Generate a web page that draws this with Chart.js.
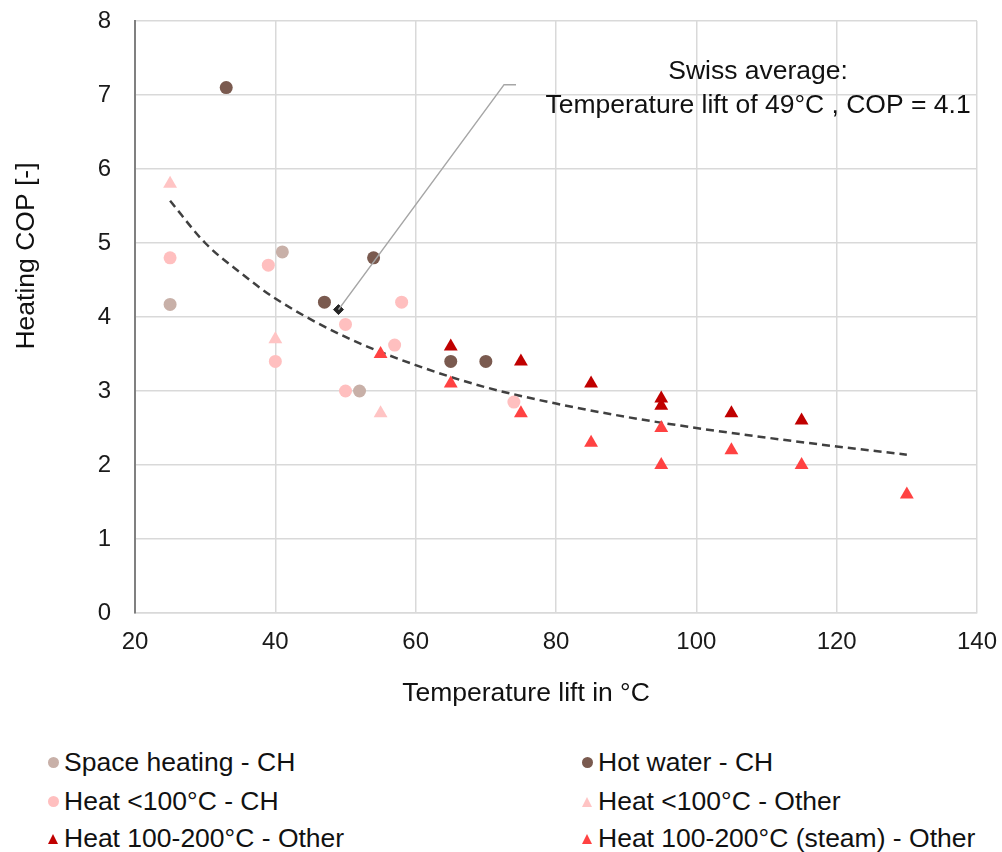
<!DOCTYPE html>
<html>
<head>
<meta charset="utf-8">
<script src="https://cdn.jsdelivr.net/npm/chart.js@4/dist/chart.umd.min.js"></script>
<style>
  body { margin: 0; background: #fff; font-family: "Liberation Sans", Arial, sans-serif; }
  #wrap { position: relative; width: 1002px; height: 720px; }
  #legend { position: absolute; left: 0; top: 740px; width: 1002px; }
  .item { position: absolute; font-size: 26.5px; color: #111; white-space: nowrap; line-height: 30px; }
  .dot { position: absolute; width: 11px; height: 11px; border-radius: 50%; left: -16px; top: 10px; }
  .tri { position: absolute; width: 0; height: 0; left: -16px; top: 11px;
         border-left: 5px solid transparent; border-right: 5px solid transparent; border-bottom-width: 10px; border-bottom-style: solid; }
</style>
</head>
<body>
<div id="wrap"><canvas id="chart" width="1002" height="720"></canvas></div>
<div id="legend"></div>
<script>
// Data
const spaceHeatingCH_x = [25, 41, 52];
const spaceHeatingCH_y = [4.17, 4.88, 3.0];

const hotWaterCH_x = [33, 47, 54, 65, 70];
const hotWaterCH_y = [7.1, 4.2, 4.8, 3.4, 3.4];

const heatLowCH_x = [25, 39, 40, 50, 50, 57, 58, 74];
const heatLowCH_y = [4.8, 4.7, 3.4, 3.9, 3.0, 3.62, 4.2, 2.85];

const heatLowOther_x = [25, 40, 55];
const heatLowOther_y = [5.8, 3.7, 2.7];

const heatHighOther_x = [65, 75, 85, 95, 95, 105, 115];
const heatHighOther_y = [3.6, 3.4, 3.1, 2.9, 2.8, 2.7, 2.6];

const heatSteamOther_x = [55, 65, 75, 85, 95, 95, 105, 115, 130];
const heatSteamOther_y = [3.5, 3.1, 2.7, 2.3, 2.5, 2.0, 2.2, 2.0, 1.6];

const swissAvg_x = [49];
const swissAvg_y = [4.1];

const trend_x = [25, 30, 35, 40, 50, 60, 70, 80, 90, 100, 110, 120, 130];
const trend_y = [5.57, 5.0, 4.6, 4.25, 3.73, 3.35, 3.05, 2.83, 2.65, 2.5, 2.37, 2.25, 2.14];

const xTicks = [20, 40, 60, 80, 100, 120, 140];
const yTicks = [0, 1, 2, 3, 4, 5, 6, 7, 8];

const FONT = '"Liberation Sans", Arial, sans-serif';

function pts(xs, ys) {
    return xs.map((x, i) => ({ x: x, y: ys[i] }));
}

const series = [
    { label: "Space heating - CH", xs: spaceHeatingCH_x, ys: spaceHeatingCH_y, color: "#c8b0a8", style: "circle" },
    { label: "Hot water - CH", xs: hotWaterCH_x, ys: hotWaterCH_y, color: "#7a5a4f", style: "circle" },
    { label: "Heat <100°C - CH", xs: heatLowCH_x, ys: heatLowCH_y, color: "#ffbfbf", style: "circle" },
    { label: "Heat <100°C - Other", xs: heatLowOther_x, ys: heatLowOther_y, color: "#ffc4c4", style: "triangle" },
    { label: "Heat 100-200°C - Other", xs: heatHighOther_x, ys: heatHighOther_y, color: "#c00000", style: "triangle" },
    { label: "Heat 100-200°C (steam) - Other", xs: heatSteamOther_x, ys: heatSteamOther_y, color: "#ff4242", style: "triangle" }
];

const datasets = series.map(s => ({
    type: "scatter",
    label: s.label,
    data: pts(s.xs, s.ys),
    pointStyle: s.style,
    pointRadius: s.style === "circle" ? 6.5 : 8,
    pointBackgroundColor: s.color,
    pointBorderColor: s.color,
    pointBorderWidth: 0,
    order: 2
}));

datasets.push({
    type: "line",
    label: "trend",
    data: pts(trend_x, trend_y),
    borderColor: "#404040",
    borderWidth: 2.5,
    borderDash: [8, 5],
    pointRadius: 0,
    cubicInterpolationMode: "monotone",
    fill: false,
    order: 3
});

datasets.push({
    type: "scatter",
    label: "Swiss average",
    data: pts(swissAvg_x, swissAvg_y),
    pointStyle: "rectRot",
    pointRadius: 5,
    pointBackgroundColor: "#262626",
    pointBorderColor: "#262626",
    order: 1
});

// callout for the Swiss average point + axis titles
const calloutPlugin = {
    id: "callout",
    afterDatasetsDraw(chart) {
        const { ctx, scales: { x, y } } = chart;
        const p0x = x.getPixelForValue(swissAvg_x[0]);
        const p0y = y.getPixelForValue(swissAvg_y[0]);
        const p1x = x.getPixelForValue(72.6), p1y = y.getPixelForValue(7.14);
        const p2x = x.getPixelForValue(74.3);
        ctx.save();
        ctx.strokeStyle = "#a6a6a6";
        ctx.lineWidth = 1.5;
        ctx.beginPath();
        ctx.moveTo(p0x, p0y);
        ctx.lineTo(p1x, p1y);
        ctx.lineTo(p2x, p1y);
        ctx.stroke();
        ctx.fillStyle = "#111";
        ctx.font = "26.5px " + FONT;
        ctx.textAlign = "center";
        ctx.textBaseline = "middle";
        const tx = x.getPixelForValue(108.8);
        ctx.fillText("Swiss average:", tx, y.getPixelForValue(7.31));
        ctx.fillText("Temperature lift of 49°C , COP = 4.1", tx, y.getPixelForValue(6.85));

        // axis titles (they sit off-centre in the original)
        ctx.fillText("Temperature lift in °C", 526, 694);
        ctx.translate(27, 256);
        ctx.rotate(-Math.PI / 2);
        ctx.fillText("Heating COP [-]", 0, 0);
        ctx.restore();
    }
};

const ctx = document.getElementById("chart").getContext("2d");
new Chart(ctx, {
    data: { datasets: datasets },
    options: {
        responsive: false,
        animation: false,
        layout: { padding: { top: 21, right: 25, left: 0, bottom: 0 } },
        plugins: {
            legend: { display: false },
            tooltip: { enabled: false }
        },
        scales: {
            x: {
                type: "linear",
                min: 20, max: 140,
                afterBuildTicks: s => { s.ticks = xTicks.map(v => ({ value: v })); },
                afterFit: s => { s.height = 107; s.paddingLeft = 0; s.paddingRight = 0; },
                grid: { color: "#d9d9d9", lineWidth: 1.5, drawTicks: false },
                border: { color: "#d9d9d9", width: 1.5 },
                ticks: { color: "#1a1a1a", font: { size: 24, family: FONT }, padding: 15 }
            },
            y: {
                type: "linear",
                min: 0, max: 8,
                afterBuildTicks: s => { s.ticks = yTicks.map(v => ({ value: v })); },
                afterFit: s => { s.width = 135; s.paddingTop = 0; s.paddingBottom = 0; },
                grid: { color: "#d9d9d9", lineWidth: 1.5, drawTicks: false },
                border: { color: "#808080", width: 2 },
                ticks: { color: "#1a1a1a", font: { size: 24, family: FONT }, padding: 24 }
            }
        }
    },
    plugins: [calloutPlugin]
});

// legend in two columns under the chart
const legendPos = [[64, 7], [598, 7], [64, 46], [598, 46], [64, 83], [598, 83]];
const legend = document.getElementById("legend");
series.forEach((s, i) => {
    const item = document.createElement("div");
    item.className = "item";
    item.style.left = legendPos[i][0] + "px";
    item.style.top = legendPos[i][1] + "px";
    const mark = document.createElement("span");
    if (s.style === "circle") {
        mark.className = "dot";
        mark.style.background = s.color;
    } else {
        mark.className = "tri";
        mark.style.borderBottomColor = s.color;
    }
    item.appendChild(mark);
    item.appendChild(document.createTextNode(s.label));
    legend.appendChild(item);
});
</script>
</body>
</html>
